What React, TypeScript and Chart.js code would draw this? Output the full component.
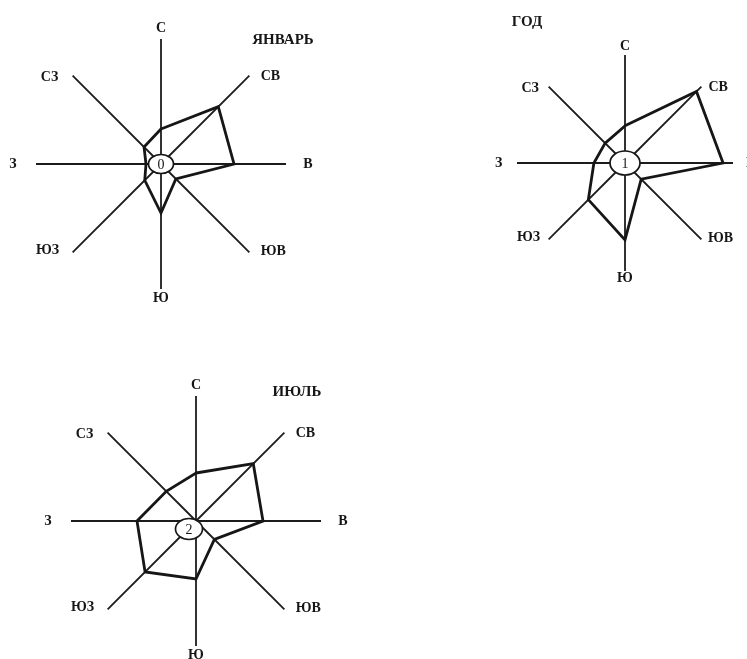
import React, { useEffect, useRef } from "react";
import { Chart, registerables } from "chart.js";

Chart.register(...registerables);

const directions = ["С", "СВ", "В", "ЮВ", "Ю", "ЮЗ", "З", "СЗ"];
const januaryValues = [7, 16.2, 14.6, 4.2, 9.8, 4.6, 3, 4.8];
const yearValues = [8.6, 23.4, 22.7, 5.3, 17.8, 12, 7.2, 6.5];
const julyValues = [9.6, 16.2, 13.4, 5.2, 11.6, 14.4, 11.8, 8.4];
const chartTitles = ["ЯНВАРЬ", "ГОД", "ИЮЛЬ"];
const calmLabels = ["0", "1", "2"];
const scaleMax = 25;

// label placement offsets (px) from each axis end
const labelOffsets: [number, number][] = [
  [0, -11],
  [21, 1],
  [22, 0],
  [24, -1],
  [0, 9],
  [-25, -2],
  [-23, 0],
  [-23, 2],
];

type Box = {
  left: number;
  top: number;
  radius: number;
  pad: number;
  labelScale: number;
  titleDx: number;
  titleDy: number;
  calmDx: number;
  calmDy: number;
  calmRx: number;
  calmRy: number;
};

const boxes: Box[] = [
  { left: -4, top: -1, radius: 125, pad: 40, labelScale: 1, titleDx: 122, titleDy: -124, calmDx: 0, calmDy: 0, calmRx: 12.5, calmRy: 9.5 },
  { left: 477, top: 15, radius: 108, pad: 40, labelScale: 0.8, titleDx: -98, titleDy: -141, calmDx: 0, calmDy: 0, calmRx: 15, calmRy: 12 },
  { left: 31, top: 356, radius: 125, pad: 40, labelScale: 1, titleDx: 101, titleDy: -129, calmDx: -7, calmDy: 8, calmRx: 13.5, calmRy: 10.5 },
];

const INK = "#161616";

function RoseChart({ values, title, calm, box }: { values: number[]; title: string; calm: string; box: Box }) {
  const ref = useRef<HTMLCanvasElement>(null);
  const size = 2 * (box.radius + box.pad);
  useEffect(() => {
    const canvas = ref.current!;
    const overlay = {
      id: "roseOverlay",
      afterDatasetsDraw(chart: any) {
        const scale = chart.scales.r;
        const ctx = chart.ctx as CanvasRenderingContext2D;
        const cx = scale.xCenter;
        const cy = scale.yCenter;
        ctx.save();
        ctx.beginPath();
        ctx.ellipse(cx + box.calmDx, cy + box.calmDy, box.calmRx, box.calmRy, 0, 0, Math.PI * 2);
        ctx.fillStyle = "#ffffff";
        ctx.fill();
        ctx.lineWidth = 1.7;
        ctx.strokeStyle = INK;
        ctx.stroke();
        ctx.fillStyle = INK;
        ctx.textAlign = "center";
        ctx.textBaseline = "middle";
        ctx.font = "14px 'Liberation Serif'";
        ctx.fillText(calm, cx + box.calmDx, cy + box.calmDy + 1);
        ctx.font = "bold 14px 'Liberation Serif'";
        directions.forEach((d, i) => {
          const p = scale.getPointPosition(i, scale.drawingArea);
          const [ox, oy] = labelOffsets[i];
          ctx.fillText(d, p.x + ox * box.labelScale, p.y + oy * box.labelScale);
        });
        ctx.font = "bold 15px 'Liberation Serif'";
        ctx.fillText(title, cx + box.titleDx, cy + box.titleDy);
        ctx.restore();
      },
    };
    const chart = new Chart(canvas, {
      type: "radar",
      data: {
        labels: directions,
        datasets: [
          {
            data: values,
            borderColor: INK,
            borderWidth: 2.8,
            pointRadius: 0,
            fill: false,
            backgroundColor: "transparent",
          },
        ],
      },
      options: {
        responsive: false,
        animation: false,
        layout: { padding: box.pad },
        plugins: { legend: { display: false }, tooltip: { enabled: false } },
        scales: {
          r: {
            min: 0,
            max: scaleMax,
            grid: { display: false },
            ticks: { display: false },
            pointLabels: { display: false },
            angleLines: { color: "#1c1c1c", lineWidth: 1.8 },
          },
        },
      },
      plugins: [overlay],
    } as any);
    return () => chart.destroy();
  }, []);
  return (
    <canvas
      ref={ref}
      width={size}
      height={size}
      style={{ position: "absolute", left: box.left, top: box.top, width: size, height: size }}
    />
  );
}

export default function App() {
  const series = [januaryValues, yearValues, julyValues];
  return (
    <div style={{ position: "fixed", left: 0, top: 0, width: 747, height: 659, overflow: "hidden", background: "#fff" }}>
      {series.map((v, i) => (
        <RoseChart key={i} values={v} title={chartTitles[i]} calm={calmLabels[i]} box={boxes[i]} />
      ))}
    </div>
  );
}
